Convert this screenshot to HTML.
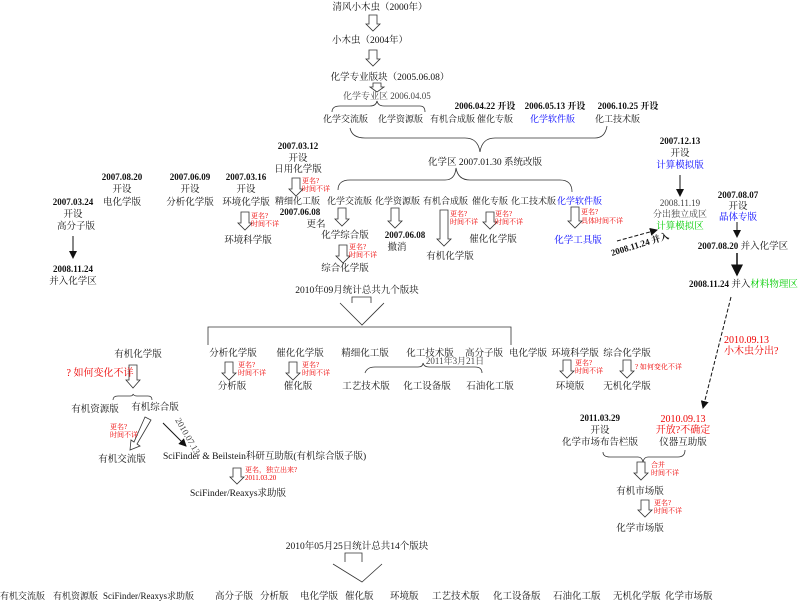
<!DOCTYPE html>
<html><head><meta charset="utf-8"><style>
html,body{margin:0;padding:0;background:#fff;width:800px;height:603px;overflow:hidden}
svg text{font-family:"Liberation Serif","Noto Serif CJK SC","Noto Sans CJK SC",serif;font-size:9.5px;fill:#111}
svg text.c9{font-size:9px}
.b{font-weight:bold;font-size:9px}
.r{fill:#e00;font-size:7px}
.rl{fill:#e00;font-size:10px}
.bl{fill:#00f}
.g{fill:#0c0}
.s{font-size:9px;fill:#444}
</style></head><body>
<svg width="800" height="603" viewBox="0 0 800 603" xmlns="http://www.w3.org/2000/svg">
<defs>
<marker id="ah" markerWidth="8" markerHeight="8" refX="7" refY="4" orient="auto"><path d="M0,0 L8,4 L0,8 z" fill="#111"/></marker>
</defs>
<g fill="#fff" stroke="#333" stroke-width="0.8">
<polygon points="369,15 377,15 377,24 380,24 373,31 366,24 369,24"/>
<polygon points="369,50 377,50 377,59 380,59 373,66 366,59 369,59"/>
<polygon points="373,83 381,83 381,87 384,87 377,92 370,87 373,87"/>
<polygon points="292,178 300,178 300,189 303,189 296,196 289,189 292,189"/>
<polygon points="338,208 346,208 346,219 349,219 342,226 335,219 338,219"/>
<polygon points="339,245 347,245 347,256 350,256 343,263 336,256 339,256"/>
<polygon points="391,208 399,208 399,221 402,221 395,228 388,221 391,221"/>
<polygon points="440,210 448,210 448,239 451,239 444,246 437,239 440,239"/>
<polygon points="486,212 494,212 494,222 497,222 490,229 483,222 486,222"/>
<polygon points="571,207 579,207 579,221 582,221 575,228 568,221 571,221"/>
<polygon points="241,212 249,212 249,223 252,223 245,230 238,223 241,223"/>
<polygon points="225,362 233,362 233,373 236,373 229,380 222,373 225,373"/>
<polygon points="289,362 297,362 297,373 300,373 293,380 286,373 289,373"/>
<polygon points="563,360 571,360 571,371 574,371 567,378 560,371 563,371"/>
<polygon points="623,360 631,360 631,371 634,371 627,378 620,371 623,371"/>
<polygon points="129,365 137,365 137,380 140,380 133,388 126,380 129,380"/>
<polygon points="145,417 151,420 137,444 140,446 130,450 131,440 134,442"/>
<polygon points="233,468 241,468 241,477 244,477 237,484 230,477 233,477"/>
<polygon points="637,462 645,462 645,473 648,473 641,480 634,473 637,473"/>
<polygon points="641,500 649,500 649,510 652,510 645,517 638,510 641,510"/>
</g>
<g fill="none" stroke="#333" stroke-width="0.8">
<path d="M332,112 Q332,106 340,106 L370,106 Q376,106 377,101 Q378,106 384,106 L420,106 Q425,106 425,112"/>
<path d="M350,128 Q352,138 365,138 L465,138 Q478,138 480,152 Q482,138 495,138 L595,138 Q605,138 607,126"/>
<path d="M338,190 Q338,180 350,180 L445,180 Q455,180 456,168 Q458,180 470,180 L560,180 Q572,180 572,192"/>
<path d="M365,373 Q367,367 375,367 L418,367 Q423,367 423,363 Q424,367 429,367 L475,367 Q482,367 482,373"/>
<path d="M113,400 Q113,396 118,396 L130,396 Q133,396 133,394 Q134,396 137,396 L148,396 Q152,396 152,400"/>
<path d="M603,452 Q603,457 610,457 L638,457 Q642,457 643,462 Q644,457 648,457 L678,457 Q685,457 685,450"/>
<path d="M352,303 L352,297 L371,297 L371,303"/>
<path d="M340,303 L362,325 L384,303"/>
<path d="M208,345 L208,327 L511,327 L511,345"/>
<path d="M345,562 L345,553 L362,553 L362,562"/>
<path d="M333,564 L362,582 L382,564"/>
</g>
<g stroke="#111" stroke-width="1" fill="none">
<line x1="73" y1="236" x2="73" y2="258" marker-end="url(#ah)"/>
<line x1="680" y1="175" x2="680" y2="196" marker-end="url(#ah)"/>
<line x1="737" y1="222" x2="737" y2="237" marker-end="url(#ah)"/>
<line x1="737" y1="253" x2="737" y2="275" stroke-width="1.5" marker-end="url(#ah)"/>
<line x1="617" y1="241" x2="657" y2="230" stroke-dasharray="4,2" marker-end="url(#ah)"/>
<line x1="731" y1="297" x2="703" y2="408" stroke-dasharray="4,2" marker-end="url(#ah)"/>
<line x1="163" y1="423" x2="186" y2="446" marker-end="url(#ah)"/>
</g>
<text x="380" y="10" text-anchor="middle">清风小木虫（2000年）</text>
<text x="370" y="43" text-anchor="middle">小木虫（2004年）</text>
<text x="390" y="80" text-anchor="middle">化学专业版块（2005.06.08）</text>
<text x="343" y="99" class="s">化学专业区 2006.04.05</text>
<text x="485" y="109" text-anchor="middle" class="b">2006.04.22 开设</text>
<text x="555" y="109" text-anchor="middle" class="b">2006.05.13 开设</text>
<text x="628" y="109" text-anchor="middle" class="b">2006.10.25 开设</text>
<text x="323" y="122" class="c9">化学交流版</text>
<text x="378" y="122" class="c9">化学资源版</text>
<text x="430" y="122" class="c9">有机合成版</text>
<text x="477" y="122" class="c9">催化专版</text>
<text x="530" y="122" class="c9 bl">化学软件版</text>
<text x="595" y="122" class="c9">化工技术版</text>
<text x="428" y="165">化学区 2007.01.30 系统改版</text>
<text x="298" y="149" text-anchor="middle" class="b">2007.03.12</text>
<text x="298" y="161" text-anchor="middle">开设</text>
<text x="298" y="172" text-anchor="middle">日用化学版</text>
<text x="302" y="183" class="r">更名?</text><text x="302" y="191" class="r">时间不详</text>
<text x="275" y="204" class="c9">精细化工版</text>
<text x="327" y="204" class="c9">化学交流版</text>
<text x="375" y="204" class="c9">化学资源版</text>
<text x="423" y="204" class="c9">有机合成版</text>
<text x="472" y="204" class="c9">催化专版</text>
<text x="511" y="204" class="c9">化工技术版</text>
<text x="557" y="204" class="c9 bl">化学软件版</text>
<text x="300" y="215" text-anchor="middle" class="b">2007.06.08</text>
<text x="316" y="227" text-anchor="middle">更名</text>
<text x="345" y="238" text-anchor="middle">化学综合版</text>
<text x="349" y="249" class="r">更名?</text><text x="349" y="257" class="r">时间不详</text>
<text x="345" y="271" text-anchor="middle">综合化学版</text>
<text x="405" y="238" text-anchor="middle" class="b">2007.06.08</text>
<text x="397" y="250" text-anchor="middle">撤消</text>
<text x="450" y="216" class="r">更名?</text><text x="450" y="224" class="r">时间不详</text>
<text x="450" y="259" text-anchor="middle">有机化学版</text>
<text x="495" y="216" class="r">更名?</text><text x="495" y="224" class="r">时间不详</text>
<text x="493" y="242" text-anchor="middle">催化化学版</text>
<text x="581" y="214" class="r">更名?</text><text x="581" y="223" class="r">具体时间不详</text>
<text x="578" y="243" text-anchor="middle" class="bl">化学工具版</text>
<text x="122" y="180" text-anchor="middle" class="b">2007.08.20</text>
<text x="122" y="192" text-anchor="middle">开设</text>
<text x="122" y="205" text-anchor="middle">电化学版</text>
<text x="190" y="180" text-anchor="middle" class="b">2007.06.09</text>
<text x="190" y="192" text-anchor="middle">开设</text>
<text x="190" y="205" text-anchor="middle">分析化学版</text>
<text x="246" y="180" text-anchor="middle" class="b">2007.03.16</text>
<text x="246" y="192" text-anchor="middle">开设</text>
<text x="246" y="205" text-anchor="middle">环境化学版</text>
<text x="251" y="218" class="r">更名?</text><text x="251" y="226" class="r">时间不详</text>
<text x="248" y="243" text-anchor="middle">环境科学版</text>
<text x="73" y="205" text-anchor="middle" class="b">2007.03.24</text>
<text x="73" y="217" text-anchor="middle">开设</text>
<text x="76" y="229" text-anchor="middle">高分子版</text>
<text x="73" y="272" text-anchor="middle" class="b">2008.11.24</text>
<text x="73" y="284" text-anchor="middle">并入化学区</text>
<text x="680" y="144" text-anchor="middle" class="b">2007.12.13</text>
<text x="680" y="156" text-anchor="middle">开设</text>
<text x="680" y="168" text-anchor="middle" class="bl">计算模拟版</text>
<text x="680" y="206" text-anchor="middle" class="s">2008.11.19</text>
<text x="680" y="217" text-anchor="middle" class="s">分出独立成区</text>
<text x="680" y="229" text-anchor="middle" class="g">计算模拟区</text>
<text transform="translate(612,256) rotate(-17)" class="b">2008.11.24 并入</text>
<text x="738" y="198" text-anchor="middle" class="b">2007.08.07</text>
<text x="738" y="209" text-anchor="middle">开设</text>
<text x="738" y="220" text-anchor="middle" class="bl">晶体专版</text>
<text x="743" y="249" text-anchor="middle"><tspan class="b">2007.08.20</tspan> 并入化学区</text>
<text x="689" y="287"><tspan class="b">2008.11.24</tspan> 并入<tspan class="g">材料物理区</tspan></text>
<text x="724" y="343" class="rl">2010.09.13</text>
<text x="724" y="354" class="rl">小木虫分出?</text>
<text x="357" y="293" text-anchor="middle">2010年09月统计总共九个版块</text>
<text x="233" y="356" text-anchor="middle">分析化学版</text>
<text x="300" y="356" text-anchor="middle">催化化学版</text>
<text x="365" y="356" text-anchor="middle">精细化工版</text>
<text x="430" y="356" text-anchor="middle">化工技术版</text>
<text x="484" y="356" text-anchor="middle">高分子版</text>
<text x="528" y="356" text-anchor="middle">电化学版</text>
<text x="575" y="356" text-anchor="middle">环境科学版</text>
<text x="627" y="356" text-anchor="middle">综合化学版</text>
<text x="455" y="364" text-anchor="middle" class="s">2011年3月21日</text>
<text x="238" y="367" class="r">更名?</text><text x="238" y="375" class="r">时间不详</text>
<text x="302" y="367" class="r">更名?</text><text x="302" y="375" class="r">时间不详</text>
<text x="575" y="365" class="r">更名?</text><text x="575" y="373" class="r">时间不详</text>
<text x="635" y="369" class="r">? 如何变化不详</text>
<text x="232" y="389" text-anchor="middle">分析版</text>
<text x="298" y="389" text-anchor="middle">催化版</text>
<text x="366" y="389" text-anchor="middle">工艺技术版</text>
<text x="427" y="389" text-anchor="middle">化工设备版</text>
<text x="490" y="389" text-anchor="middle">石油化工版</text>
<text x="570" y="389" text-anchor="middle">环境版</text>
<text x="627" y="389" text-anchor="middle">无机化学版</text>
<text x="138" y="357" text-anchor="middle">有机化学版</text>
<text x="100" y="376" text-anchor="middle" class="rl">? 如何变化不详</text>
<text x="95" y="412" text-anchor="middle">有机资源版</text>
<text x="155" y="410" text-anchor="middle">有机综合版</text>
<text x="110" y="429" class="r">更名?</text><text x="110" y="437" class="r">时间不详</text>
<text x="122" y="462" text-anchor="middle">有机交流版</text>
<text transform="translate(175,420) rotate(60)" class="s">2010.07.13</text>
<text x="163" y="459">SciFinder &amp; Beilstein科研互助版(有机综合版子版)</text>
<text x="245" y="472" class="r">更名，独立出来?</text><text x="245" y="480" class="r">2011.03.20</text>
<text x="190" y="496">SciFinder/Reaxys求助版</text>
<text x="600" y="421" text-anchor="middle" class="b">2011.03.29</text>
<text x="600" y="433" text-anchor="middle">开设</text>
<text x="600" y="445" text-anchor="middle">化学市场布告栏版</text>
<text x="683" y="422" text-anchor="middle" class="rl">2010.09.13</text>
<text x="683" y="433" text-anchor="middle" class="rl">开放?不确定</text>
<text x="683" y="445" text-anchor="middle">仪器互助版</text>
<text x="651" y="467" class="r">合并</text><text x="651" y="475" class="r">时间不详</text>
<text x="640" y="494" text-anchor="middle">有机市场版</text>
<text x="654" y="505" class="r">更名?</text><text x="654" y="513" class="r">时间不详</text>
<text x="640" y="531" text-anchor="middle">化学市场版</text>
<text x="357" y="549" text-anchor="middle">2010年05月25日统计总共14个版块</text>
<text x="0" y="599" class="c9">有机交流版</text>
<text x="53" y="599" class="c9">有机资源版</text>
<text x="103" y="599" class="c9">SciFinder/Reaxys求助版</text>
<text x="215" y="599">高分子版</text>
<text x="260" y="599">分析版</text>
<text x="300" y="599">电化学版</text>
<text x="345" y="599">催化版</text>
<text x="390" y="599">环境版</text>
<text x="432" y="599">工艺技术版</text>
<text x="493" y="599">化工设备版</text>
<text x="553" y="599">石油化工版</text>
<text x="613" y="599">无机化学版</text>
<text x="665" y="599">化学市场版</text>
</svg>
</body></html>
